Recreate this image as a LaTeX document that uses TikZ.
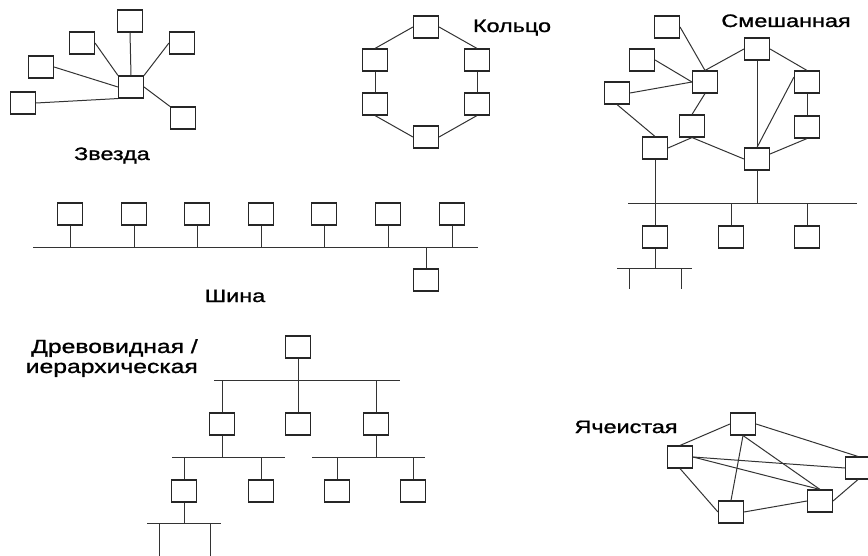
\documentclass[tikz,border=0pt]{standalone}
\usepackage{fontspec}
\setmainfont{Liberation Sans}
\newfontfamily\lblfont[FakeStretch=1.3,FakeBold=1.2]{Liberation Sans}
\begin{document}
\begin{tikzpicture}[x=1pt,y=-1pt,
  box/.style={draw=black!85,line width=1.1pt,minimum width=25pt,minimum height=22pt,inner sep=0pt,fill=white},
  ln/.style={draw=black!80,line width=1pt},
  lbl/.style={font=\lblfont\fontsize{18}{20}\selectfont,inner sep=0pt,text=black,anchor=base}]
\useasboundingbox (0,0) rectangle (868,556);
\clip (0,0) rectangle (868,556);

% ---------- Star ----------
\node[box] (s0) at (131,87) {};
\node[box] (s1) at (130,21) {};
\node[box] (s2) at (82,43) {};
\node[box] (s3) at (182,43) {};
\node[box] (s4) at (41,67) {};
\node[box] (s5) at (23,103) {};
\node[box] (s6) at (183,118) {};
\draw[ln] (s0.north) -- (s1.south);
\draw[ln] (s0.north west) -- (s2.east);
\draw[ln] (s0.north east) -- (s3.west);
\draw[ln] (s0.west) -- (s4.east);
\draw[ln] (s0.south west) -- (s5.east);
\draw[ln] (s0.east) -- (s6.north west);
\node[lbl] (lstar) at (112,160) {Звезда};

% ---------- Ring ----------
\node[box] (r1) at (426,27) {};
\node[box] (r2) at (375,60) {};
\node[box] (r3) at (375,104) {};
\node[box] (r4) at (426,137) {};
\node[box] (r5) at (477,104) {};
\node[box] (r6) at (477,60) {};
\draw[ln] (r1.west) -- (r2.north);
\draw[ln] (r2.south) -- (r3.north);
\draw[ln] (r3.south) -- (r4.west);
\draw[ln] (r4.east) -- (r5.south);
\draw[ln] (r5.north) -- (r6.south);
\draw[ln] (r6.north) -- (r1.east);
\node[lbl] (lring) at (512,32) {Кольцо};

% ---------- Mixed ----------
\node[box] (mA) at (667,27) {};
\node[box] (mB) at (642,60) {};
\node[box] (mC) at (617,93) {};
\node[box] (mD) at (705,82) {};
\node[box] (mE) at (757,49) {};
\node[box] (mF) at (807,82) {};
\node[box] (mG) at (692,126) {};
\node[box] (mH) at (807,127) {};
\node[box] (mI) at (655,148) {};
\node[box] (mJ) at (757,159) {};
\node[box] (mK) at (655,237) {};
\node[box] (mL) at (731,237) {};
\node[box] (mM) at (807,237) {};
\draw[ln] (mA.east) -- (mD.north);
\draw[ln] (mB.east) -- (mD.west);
\draw[ln] (mC.east) -- (mD.west);
\draw[ln] (mC.south) -- (mI.north);
\draw[ln] (mD.north) -- (mE.west);
\draw[ln] (mD.south) -- (mG.north);
\draw[ln] (mE.south) -- (mJ.north);
\draw[ln] (mE.east) -- (mF.north);
\draw[ln] ([yshift=5pt]mF.west) -- (mJ.north);
\draw[ln] (mF.south) -- (mH.north);
\draw[ln] (mH.south) -- ([yshift=5pt]mJ.east);
\draw[ln] (mI.east) -- (mG.south);
\draw[ln] (mG.south) -- (mJ.west);
\coordinate (mb1) at (628,204);
\coordinate (mb2) at (857,204);
\draw[ln] (mb1) -- (mb2);
\draw[ln] (mI) -- (mK);
\draw[ln] (mJ.south) -- (mJ.south |- mb1);
\draw[ln] (mL.north) -- (mL.north |- mb1);
\draw[ln] (mM.north) -- (mM.north |- mb1);
\coordinate (lb1) at (617,269);
\coordinate (lb2) at (692,269);
\draw[ln] (lb1) -- (lb2);
\draw[ln] (mK.south) -- (mK.south |- lb1);
\coordinate (lg1a) at (629,269);
\coordinate (lg1b) at (629,289);
\coordinate (lg2a) at (681,269);
\coordinate (lg2b) at (681,289);
\draw[ln] (lg1a) -- (lg1b);
\draw[ln] (lg2a) -- (lg2b);
\node[lbl] (lmix) at (786,27) {Смешанная};

% ---------- Bus ----------
\coordinate (bb1) at (33,248);
\coordinate (bb2) at (478,248);
\draw[ln] (bb1) -- (bb2);
\foreach \i/\x in {1/70,2/134,3/197,4/261,5/324,6/388,7/452} {
  \node[box] (b\i) at (\x,214) {};
  \draw[ln] (b\i.south) -- (b\i.south |- bb1);
}
\node[box] (b8) at (426,280) {};
\draw[ln] (b8.north) -- (b8.north |- bb1);
\node[lbl] (lbus) at (235,302) {Шина};

% ---------- Tree ----------
\node[box] (t0) at (298,347) {};
\coordinate (tb1) at (214,380);
\coordinate (tb2) at (400,380);
\draw[ln] (tb1) -- (tb2);
\node[box] (t1) at (222,424) {};
\node[box] (t2) at (298,424) {};
\node[box] (t3) at (376,424) {};
\draw[ln] (t0) -- (t2);
\draw[ln] (t1.north) -- (t1.north |- tb1);
\draw[ln] (t3.north) -- (t3.north |- tb1);
\coordinate (tc1) at (172,457);
\coordinate (tc2) at (285,457);
\draw[ln] (tc1) -- (tc2);
\draw[ln] (t1.south) -- (t1.south |- tc1);
\node[box] (t11) at (184,491) {};
\node[box] (t12) at (261,491) {};
\draw[ln] (t11.north) -- (t11.north |- tc1);
\draw[ln] (t12.north) -- (t12.north |- tc1);
\coordinate (td1) at (312,457);
\coordinate (td2) at (425,457);
\draw[ln] (td1) -- (td2);
\draw[ln] (t3.south) -- (t3.south |- td1);
\node[box] (t31) at (337,491) {};
\node[box] (t32) at (413,491) {};
\draw[ln] (t31.north) -- (t31.north |- td1);
\draw[ln] (t32.north) -- (t32.north |- td1);
\coordinate (te1) at (147,523);
\coordinate (te2) at (221,523);
\draw[ln] (te1) -- (te2);
\draw[ln] (t11.south) -- (t11.south |- te1);
\coordinate (tl1a) at (159,523);
\coordinate (tl1b) at (159,556);
\coordinate (tl2a) at (210,523);
\coordinate (tl2b) at (210,556);
\draw[ln] (tl1a) -- (tl1b);
\draw[ln] (tl2a) -- (tl2b);
\node[lbl,font=\lblfont\fontsize{19}{20}\selectfont,anchor=north east,align=right] (ltree) at (198,339) {Древовидная /\\иерархическая};

% ---------- Mesh ----------
\node[box] (hT) at (743,424) {};
\node[box] (hL) at (680,457) {};
\node[box] (hR) at (858,468) {};
\node[box] (hBR) at (820,501) {};
\node[box] (hB) at (731,512) {};
\draw[ln] (hT.west) -- (hL.north);
\draw[ln] (hT.east) -- (hR.north);
\draw[ln] (hT.south) -- (hB.north);
\draw[ln] (hT.south) -- (hBR.north);
\draw[ln] (hL.east) -- (hR.west);
\draw[ln] (hL.east) -- (hBR.north);
\draw[ln] (hL.south) -- (hB.west);
\draw[ln] (hB.east) -- (hBR.west);
\draw[ln] (hBR.east) -- (hR.south);
\node[lbl] (lmesh) at (626,433) {Ячеистая};
\end{tikzpicture}
\end{document}
